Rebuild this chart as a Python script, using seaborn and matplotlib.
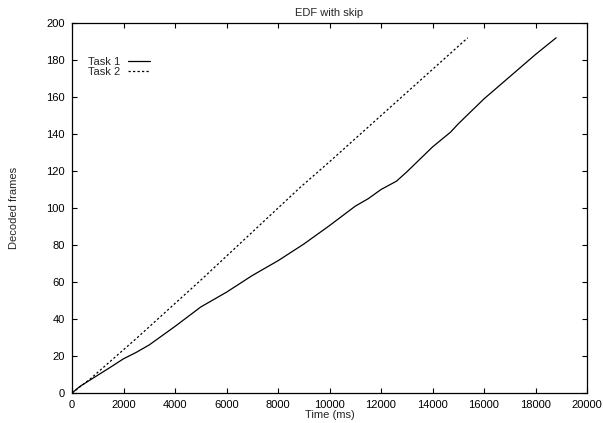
import pandas as pd
import matplotlib
matplotlib.use("Agg")
import matplotlib.pyplot as plt
import seaborn as sns

# Task 1 (solid)
task1_time = [0, 300, 700, 1500, 2000, 2500, 3000, 3500, 4000, 5000, 6000, 7000, 8000,
              9000, 10000, 11000, 11500, 12000, 12600, 13000, 14000, 14700, 15000,
              16000, 17000, 18000, 18800]
task1_frames = [0, 3.5, 7, 14, 18.5, 22, 26, 31, 36, 46.5, 54.5, 63.5, 71.5,
                80.5, 90.5, 101, 105, 110, 114.5, 119.5, 133, 141, 145.5,
                159, 171, 183, 192]

# Task 2 (dashed)
task2_time = [0, 700, 2500, 5000, 8850, 10000, 15366]
task2_frames = [0, 7.5, 29.5, 61, 111, 125, 192]

df1 = pd.DataFrame({'time': task1_time, 'frames': task1_frames})
df2 = pd.DataFrame({'time': task2_time, 'frames': task2_frames})

sns.set_style("ticks")
plt.rcParams['font.family'] = ['Liberation Sans', 'DejaVu Sans']

fig = plt.figure(figsize=(6.03, 4.23), dpi=100)
ax = fig.add_axes([0.1194, 0.0709, 0.8541, 0.8747])

sns.lineplot(x='time', y='frames', data=df1, ax=ax, color='black', linewidth=0.9,
             label='Task 1')
sns.lineplot(x='time', y='frames', data=df2, ax=ax, color='black', linewidth=0.9,
             linestyle=(0, (1.8, 1.8)), label='Task 2')

ax.set_xlim(0, 20000)
ax.set_ylim(0, 200)
ax.set_xticks(range(0, 20001, 2000))
ax.set_yticks(range(0, 201, 20))
ax.tick_params(direction='in', top=True, right=True, length=3.5, width=0.8,
               labelsize=8, pad=5, colors='black')
for s in ax.spines.values():
    s.set_linewidth(0.9)
    s.set_color('black')

ax.set_title('EDF with skip', fontsize=8, pad=5)
ax.set_xlabel('Time (ms)', fontsize=8, labelpad=-0.3)
ax.set_ylabel('Decoded frames', fontsize=8, labelpad=20)

ax.legend(loc='upper left', bbox_to_anchor=(0.02, 0.924), frameon=False,
          markerfirst=False, fontsize=8, handlelength=2.0, handletextpad=0.7,
          labelspacing=0.0, borderpad=0)

plt.savefig('out.png', dpi=100)
